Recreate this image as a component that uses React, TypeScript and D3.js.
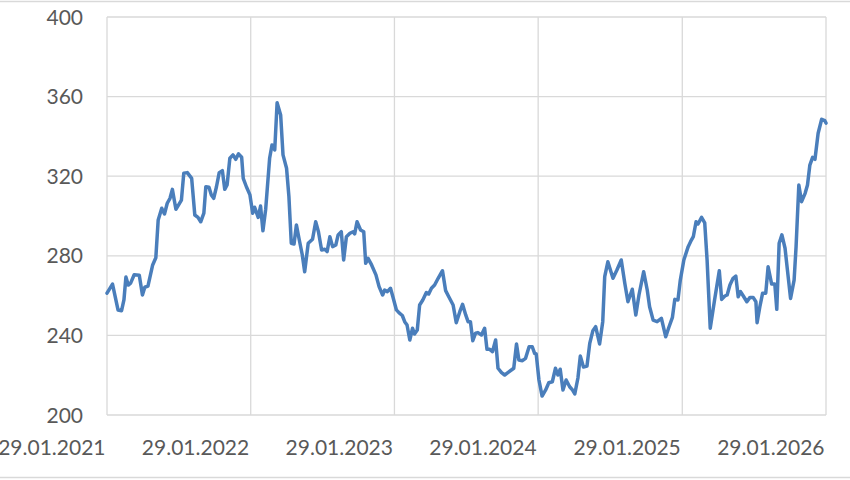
import * as d3 from "d3";

// weekly-ish closing values
const dates = [
  "2021-01-29", "2021-02-12", "2021-02-26", "2021-03-07", "2021-03-13", "2021-03-18", "2021-03-24", "2021-03-30",
  "2021-04-08", "2021-04-21", "2021-04-29", "2021-05-05", "2021-05-13", "2021-05-25", "2021-06-02", "2021-06-08",
  "2021-06-17", "2021-06-24", "2021-07-01", "2021-07-08", "2021-07-14", "2021-07-23", "2021-07-31", "2021-08-06",
  "2021-08-12", "2021-08-21", "2021-09-01", "2021-09-09", "2021-09-17", "2021-09-24", "2021-10-02", "2021-10-07",
  "2021-10-15", "2021-10-21", "2021-10-27", "2021-11-03", "2021-11-10", "2021-11-18", "2021-11-24", "2021-11-30",
  "2021-12-07", "2021-12-15", "2021-12-22", "2021-12-29", "2022-01-06", "2022-01-10", "2022-01-18", "2022-01-27",
  "2022-02-03", "2022-02-08", "2022-02-17", "2022-02-23", "2022-03-01", "2022-03-08", "2022-03-18", "2022-03-24",
  "2022-03-31", "2022-04-06", "2022-04-15", "2022-04-21", "2022-04-30", "2022-05-06", "2022-05-12", "2022-05-19",
  "2022-05-25", "2022-06-01", "2022-06-09", "2022-06-15", "2022-06-24", "2022-07-05", "2022-07-13", "2022-07-20",
  "2022-07-28", "2022-08-05", "2022-08-11", "2022-08-18", "2022-08-25", "2022-09-02", "2022-09-08", "2022-09-16",
  "2022-09-22", "2022-09-29", "2022-10-08", "2022-10-16", "2022-10-20", "2022-10-26", "2022-11-04", "2022-11-12",
  "2022-11-17", "2022-11-23", "2022-12-02", "2022-12-13", "2022-12-21", "2022-12-30", "2023-01-04", "2023-01-11",
  "2023-01-19", "2023-01-25", "2023-02-03", "2023-02-10", "2023-02-18", "2023-02-24", "2023-03-02", "2023-03-09",
  "2023-03-16", "2023-03-21", "2023-03-28", "2023-04-03", "2023-04-11", "2023-04-20", "2023-04-26", "2023-05-03",
  "2023-05-11", "2023-05-20", "2023-05-31", "2023-06-08", "2023-06-16", "2023-06-27", "2023-07-05", "2023-07-14",
  "2023-07-21", "2023-07-29", "2023-08-04", "2023-08-10", "2023-08-16", "2023-08-23", "2023-08-29", "2023-09-07",
  "2023-09-15", "2023-09-21", "2023-09-28", "2023-10-05", "2023-10-13", "2023-10-19", "2023-10-28", "2023-11-05",
  "2023-11-13", "2023-11-28", "2023-12-05", "2023-12-11", "2023-12-20", "2023-12-28", "2024-01-06", "2024-01-14",
  "2024-01-20", "2024-01-24", "2024-01-31", "2024-02-08", "2024-02-17", "2024-02-25", "2024-03-05", "2024-03-13",
  "2024-03-19", "2024-03-25", "2024-04-01", "2024-04-09", "2024-04-18", "2024-04-25", "2024-05-01", "2024-05-09",
  "2024-05-15", "2024-05-23", "2024-06-01", "2024-06-08", "2024-06-16", "2024-06-23", "2024-07-03", "2024-07-11",
  "2024-07-16", "2024-07-24", "2024-08-06", "2024-08-16", "2024-08-27", "2024-09-05", "2024-09-13", "2024-09-24",
  "2024-10-03", "2024-10-11", "2024-10-23", "2024-11-01", "2024-11-07", "2024-11-16", "2024-11-26", "2024-12-07",
  "2024-12-18", "2024-12-26", "2025-01-04", "2025-01-10", "2025-01-18", "2025-01-24", "2025-02-02", "2025-02-13",
  "2025-02-19", "2025-02-26", "2025-03-05", "2025-03-10", "2025-03-19", "2025-03-27", "2025-04-02", "2025-04-10",
  "2025-04-21", "2025-05-03", "2025-05-09", "2025-05-17", "2025-05-23", "2025-05-30", "2025-06-07", "2025-06-14",
  "2025-06-20", "2025-06-26", "2025-07-03", "2025-07-12", "2025-07-20", "2025-07-28", "2025-08-04", "2025-08-07",
  "2025-08-14", "2025-08-21", "2025-08-29", "2025-09-04", "2025-09-13", "2025-09-21", "2025-09-26", "2025-10-02",
  "2025-10-09", "2025-10-17", "2025-10-23", "2025-10-31", "2025-11-09", "2025-11-14", "2025-11-21", "2025-11-28",
  "2025-12-07", "2025-12-13", "2025-12-19", "2025-12-26", "2026-01-01", "2026-01-09", "2026-01-18", "2026-01-26",
  "2026-01-29",
];

const prices = [
  261.2, 265.8, 252.8, 252.4, 257.8, 269.3, 265.3, 266.3,
  270.5, 270.2, 260.3, 264.2, 264.8, 275.4, 279.0, 298.0,
  303.9, 301.0, 306.4, 308.9, 313.4, 303.4, 306.0, 308.0,
  321.5, 321.8, 318.9, 300.5, 299.3, 297.1, 301.4, 314.7,
  314.4, 310.6, 308.9, 314.7, 321.8, 322.8, 313.4, 315.6,
  329.0, 330.7, 328.5, 331.2, 329.5, 318.9, 314.7, 310.6,
  301.4, 304.4, 299.3, 305.0, 292.6, 303.4, 329.0, 335.7,
  333.2, 356.9, 350.8, 330.7, 324.0, 309.7, 286.3, 285.9,
  295.5, 288.3, 280.4, 272.0, 286.3, 288.3, 297.1, 292.1,
  282.9, 283.3, 282.1, 289.6, 284.6, 285.4, 290.5, 292.1,
  277.9, 289.6, 291.3, 292.1, 291.0, 297.1, 293.0, 292.1,
  276.2, 278.7, 275.4, 270.4, 264.5, 260.3, 262.8, 262.0,
  263.7, 259.4, 252.8, 251.3, 250.0, 246.9, 245.2, 237.7,
  243.6, 240.7, 242.7, 255.3, 257.8, 261.5, 260.8, 263.7,
  265.3, 268.7, 272.5, 262.5, 259.4, 255.3, 246.4, 251.9,
  255.6, 250.3, 246.9, 246.9, 237.3, 241.1, 241.4, 240.2,
  243.6, 233.0, 233.0, 231.8, 237.7, 223.5, 221.3, 220.1,
  221.3, 223.5, 235.7, 227.6, 227.3, 228.5, 234.3, 234.3,
  231.0, 230.7, 217.6, 209.5, 212.6, 216.2, 216.7, 223.5,
  220.1, 223.0, 212.6, 217.6, 214.2, 212.6, 210.6, 218.6,
  229.6, 224.1, 224.6, 236.0, 242.4, 244.4, 235.7, 246.9,
  269.5, 277.0, 268.7, 272.9, 277.9, 266.2, 256.9, 263.2,
  250.3, 260.3, 272.0, 262.8, 254.4, 247.7, 246.9, 248.6,
  239.3, 244.1, 249.1, 258.1, 257.8, 267.8, 277.9, 284.6,
  287.1, 289.6, 297.1, 296.0, 299.3, 296.6, 277.9, 243.6,
  257.8, 272.5, 258.1, 259.8, 260.3, 265.3, 268.7, 269.8,
  259.4, 262.0, 259.8, 256.9, 259.1, 259.1, 256.9, 246.4,
  254.4, 261.2, 261.2, 274.5, 265.8, 265.8, 253.1, 286.3,
  290.5, 283.8, 272.9, 258.6, 267.8, 284.6, 315.6, 307.2,
  311.4, 315.6, 325.6, 329.5, 328.5, 341.6, 348.6, 347.9,
  346.7,
];

const xTicks = ["29.01.2021", "29.01.2022", "29.01.2023", "29.01.2024", "29.01.2025", "29.01.2026"];
const yTicks = [200, 240, 280, 320, 360, 400];

const W = 850;
const H = 480;
const FONT = "Lato, 'Open Sans', sans-serif";

export default function App() {
  const parseIso = d3.timeParse("%Y-%m-%d");
  const parseTick = d3.timeParse("%d.%m.%Y");

  const points = dates.map((d, i) => ({ date: parseIso(d) as Date, value: prices[i] }));
  const tickDates = xTicks.map((t) => parseTick(t) as Date);

  const x = d3
    .scaleTime()
    .domain([tickDates[0], tickDates[tickDates.length - 1]])
    .range([107, 826]);
  const y = d3.scaleLinear().domain([200, 400]).range([415, 17]);

  const line = d3
    .line<{ date: Date; value: number }>()
    .x((d) => x(d.date))
    .y((d) => y(d.value));

  const grid = "#d9d9d9";

  return (
    <div style={{ position: "absolute", left: 0, top: 0 }}>
      <svg width={W} height={H} style={{ display: "block", background: "#fff" }}>
        {/* chart area border */}
        <rect x={-10} y={1.5} width={W + 20} height={476} fill="#fff" stroke={grid} strokeWidth={1.5} />

        {/* horizontal gridlines */}
        {yTicks.map((t) => (
          <line key={"h" + t} x1={x.range()[0]} x2={x.range()[1]} y1={y(t)} y2={y(t)} stroke={grid} strokeWidth={1.3} />
        ))}
        {/* vertical gridlines */}
        {tickDates.map((d, i) => (
          <line key={"v" + i} x1={x(d)} x2={x(d)} y1={y(400)} y2={y(200)} stroke={grid} strokeWidth={1.3} />
        ))}

        {/* y labels */}
        {yTicks.map((t) => (
          <text
            key={"yl" + t}
            x={83}
            y={y(t)}
            dy="0.36em"
            textAnchor="end"
            fontFamily={FONT}
            fontSize={21}
            fill="#595959"
          >
            {t}
          </text>
        ))}

        {/* x labels */}
        {tickDates.map((d, i) => (
          <text
            key={"xl" + i}
            x={x(d) - 1.5}
            y={455}
            textAnchor="end"
            fontFamily={FONT}
            fontSize={21}
            fill="#595959"
          >
            {xTicks[i]}
          </text>
        ))}

        <path
          d={line(points) ?? ""}
          fill="none"
          stroke="#4a7ebb"
          strokeWidth={3.5}
          strokeLinejoin="round"
          strokeLinecap="round"
        />
      </svg>
    </div>
  );
}
